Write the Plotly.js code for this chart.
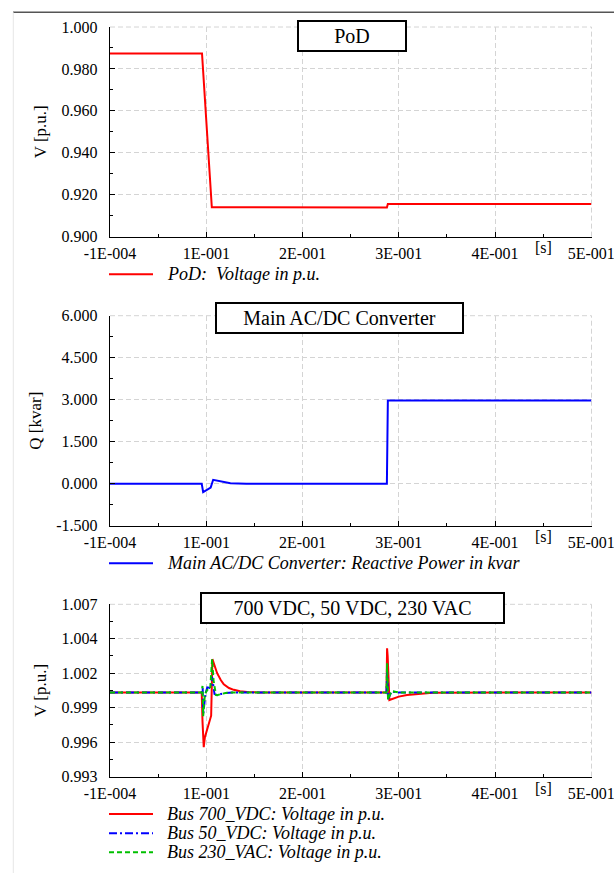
<!DOCTYPE html>
<html><head><meta charset="utf-8">
<script src="https://cdn.plot.ly/plotly-3.0.1.min.js"></script>
<style>html,body{margin:0;padding:0;background:#fff}</style>
</head><body><div id="chart" style="width:614px;height:873px"></div>
<script>
const FONT = '"Liberation Serif","Times New Roman",Times,serif';

// ---- shared time axis ----
const xTickVals = [-0.0001, 0.1, 0.2, 0.3, 0.4, 0.5];
const xTickText = ['-1E-004', '1E-001', '2E-001', '3E-001', '4E-001', '5E-001'];
const xMinorVals = [0.05, 0.15, 0.25, 0.35, 0.45];

// ---- panel 1: PoD voltage ----
const podT = [-0.0001, 0.0955, 0.1057, 0.1160, 0.1165, 0.2876, 0.2886, 0.5];
const podV = [0.9874, 0.9874, 0.9140, 0.9140, 0.9139, 0.9139, 0.9156, 0.9156];

// ---- panel 2: converter reactive power ----
const qT = [-0.0001, 0.0952, 0.0967, 0.1035, 0.1045, 0.1071, 0.1100, 0.1147, 0.1200, 0.1250, 0.1330, 0.1416, 0.2876, 0.2886, 0.5];
const qV = [0, 0, -0.30, -0.16, -0.14, 0.14, 0.12, 0.07, 0.04, 0.02, 0.01, 0, 0, 2.97, 2.97];

// ---- panel 3: bus voltages ----
const busT700 = [-0.0001, 0.0952, 0.0960, 0.0973, 0.0985, 0.1037, 0.1050, 0.1063, 0.1090, 0.1112, 0.1150, 0.1181, 0.1235, 0.1285, 0.1350, 0.1423, 0.1550, 0.2872, 0.2878, 0.2884, 0.2902, 0.2946, 0.3000, 0.3085, 0.3223, 0.3350, 0.5];
const busV700 = [0.99983, 0.99983, 0.99750, 0.99539, 0.99620, 0.99770, 0.99795, 1.00254, 1.00190, 1.00140, 1.00085, 1.00050, 1.00020, 1.00005, 0.99993, 0.99987, 0.99984, 0.99983, 1.00343, 1.00280, 0.99922, 0.99935, 0.99950, 0.99963, 0.99976, 0.99982, 0.99983];

const busT50 = [-0.0001, 0.0952, 0.0962, 0.0968, 0.0990, 0.1010, 0.1045, 0.1060, 0.1085, 0.1112, 0.1200, 0.1280, 0.2872, 0.2878, 0.2888, 0.2905, 0.2925, 0.2960, 0.3000, 0.5];
const busV50 = [0.99983, 0.99983, 1.00020, 0.99810, 0.99970, 1.00025, 1.00020, 1.00110, 0.99970, 0.99962, 0.99980, 0.99983, 0.99983, 1.00150, 0.99930, 0.99960, 0.99992, 0.99988, 0.99983, 0.99983];

const busT230 = [-0.0001, 0.0952, 0.0960, 0.0967, 0.0985, 0.1010, 0.1040, 0.1060, 0.1075, 0.1100, 0.1112, 0.1150, 0.1200, 0.1250, 0.2872, 0.2878, 0.2888, 0.2905, 0.2925, 0.2960, 0.3000, 0.5];
const busV230 = [0.99983, 0.99983, 1.00037, 0.99790, 0.99970, 1.00005, 1.00010, 1.00254, 1.00080, 0.99964, 0.99962, 0.99972, 0.99980, 0.99983, 0.99983, 1.00220, 0.99925, 0.99960, 0.99995, 0.99990, 0.99983, 0.99983];

// ---- y tick labels ----
const y1TickVals = [0.90, 0.92, 0.94, 0.96, 0.98, 1.00];
const y1TickText = ['0.900', '0.920', '0.940', '0.960', '0.980', '1.000'];
const y2TickVals = [-1.5, 0, 1.5, 3, 4.5, 6];
const y2TickText = ['-1.500', '0.000', '1.500', '3.000', '4.500', '6.000'];
const y3TickVals = [0.993, 0.9958, 0.9986, 1.0014, 1.0042, 1.007];
const y3TickText = ['0.993', '0.996', '0.999', '1.002', '1.004', '1.007'];

// ---- series names / panel titles ----
const panelTitles = ['PoD', 'Main AC/DC Converter', '700 VDC, 50 VDC, 230 VAC'];
const seriesNames = ['PoD:\u00a0 Voltage in p.u.', 'Main AC/DC Converter: Reactive Power in kvar',
                     'Bus 700_VDC: Voltage in p.u.', 'Bus 50_VDC: Voltage in p.u.', 'Bus 230_VAC: Voltage in p.u.'];

const W = 614, H = 873;
const px = v => v / W;
const py = v => 1 - v / H;

const XDOM = [px(110), px(591.5)];
const panels = [
  {top: 27, bottom: 236.6},
  {top: 315.7, bottom: 525.7},
  {top: 604.3, bottom: 776.6}
];

const GRID = '#d4d4d4';
function xCfg(anchor) {
  return {
    domain: XDOM, anchor: anchor, range: [-0.0001, 0.5002],
    tickmode: 'array', tickvals: xTickVals, ticktext: xTickText,
    ticks: 'inside', ticklen: 5, tickwidth: 1, tickcolor: '#000', ticklabelstandoff: 2,
    ticklabeloverflow: 'allow',
    showline: true, linecolor: '#000', linewidth: 1.2,
    showgrid: true, gridcolor: GRID, griddash: '5px,3px', gridwidth: 1,
    zeroline: false, tickfont: {family: FONT, size: 16, color: '#000'},
    minor: {tickvals: xMinorVals, ticks: 'inside', ticklen: 3, tickcolor: '#000', tickwidth: 1, showgrid: false},
    fixedrange: true
  };
}
function yCfg(anchor, p, range, tv, tt, minorVals, title) {
  return {
    domain: [py(p.bottom), py(p.top)], anchor: anchor, range: range,
    tickmode: 'array', tickvals: tv, ticktext: tt,
    ticks: 'inside', ticklen: 5, tickwidth: 1, tickcolor: '#000', ticklabelstandoff: 8,
    showline: true, linecolor: '#000', linewidth: 1.2,
    showgrid: true, gridcolor: GRID, griddash: '5px,3px', gridwidth: 1,
    zeroline: false, tickfont: {family: FONT, size: 16, color: '#000'},
    minor: {tickvals: minorVals, ticks: 'inside', ticklen: 3, tickcolor: '#000', tickwidth: 1, showgrid: false},
    title: {text: title, font: {family: FONT, size: 17, color: '#000'}, standoff: 10},
    fixedrange: true
  };
}

const styles = [
  {color: '#ff0000', width: 2},
  {color: '#0000ff', width: 2},
  {color: '#ff0000', width: 2},
  {color: '#0000ff', width: 2, dash: '8px,3px,2px,3px'},
  {color: '#00c000', width: 2, dash: '5px,3px'}
];

const traces = [
  {x: podT, y: podV, xaxis: 'x', yaxis: 'y', type: 'scatter', mode: 'lines', name: seriesNames[0], line: styles[0]},
  {x: qT, y: qV, xaxis: 'x2', yaxis: 'y2', type: 'scatter', mode: 'lines', name: seriesNames[1], line: styles[1]},
  {x: busT700, y: busV700, xaxis: 'x3', yaxis: 'y3', type: 'scatter', mode: 'lines', name: seriesNames[2], line: styles[2]},
  {x: busT50, y: busV50, xaxis: 'x3', yaxis: 'y3', type: 'scatter', mode: 'lines', name: seriesNames[3], line: styles[3]},
  {x: busT230, y: busV230, xaxis: 'x3', yaxis: 'y3', type: 'scatter', mode: 'lines', name: seriesNames[4], line: styles[4]}
];

function titleBox(text, cx, cy, w, h) {
  return {
    text: text, xref: 'paper', yref: 'paper', x: px(cx), y: py(cy),
    xanchor: 'center', yanchor: 'middle', showarrow: false,
    font: {family: FONT, size: 20, color: '#000'},
    bordercolor: '#000', borderwidth: 2, borderpad: 0, bgcolor: '#fff',
    width: w - 4, height: h - 4
  };
}
function secLabel(xa, yPx) {
  return {text: '[s]', xref: xa, yref: 'paper', x: 0.45, y: py(yPx), xanchor: 'center', yanchor: 'middle',
          showarrow: false, font: {family: FONT, size: 16, color: '#000'}};
}

const shapes = [
  {type: 'line', xref: 'paper', yref: 'paper', x0: px(13), x1: 1, y0: py(12.3), y1: py(12.3), line: {color: '#555', width: 1.5}},
  {type: 'line', xref: 'paper', yref: 'paper', x0: px(13.3), x1: px(13.3), y0: py(12.3), y1: 0, line: {color: '#e6e6e6', width: 1}}
];
// top and right dashed grid edges (Plotly clips grid lines at the range ends)
[['x', 'y'], ['x2', 'y2'], ['x3', 'y3']].forEach(([xa, ya]) => {
  shapes.push({type: 'line', xref: xa + ' domain', yref: ya + ' domain', x0: 0, x1: 1, y0: 1, y1: 1,
               line: {color: GRID, width: 1, dash: '5px,3px'}, layer: 'below'});
  shapes.push({type: 'line', xref: xa + ' domain', yref: ya + ' domain', x0: 1, x1: 1, y0: 0, y1: 1,
               line: {color: GRID, width: 1, dash: '5px,3px'}, layer: 'below'});
});

// legend rows (symbol line + italic label) under each panel
const legendRows = [274.3, 563.3, 814, 833.3, 852.3];
const annotations = [
  titleBox(panelTitles[0], 352, 36, 110, 32),
  titleBox(panelTitles[1], 339, 318, 249, 32),
  titleBox(panelTitles[2], 352, 607.5, 305, 32),
  secLabel('x', 247.5), secLabel('x2', 536.5), secLabel('x3', 788.5)
];
legendRows.forEach((row, i) => {
  const st = styles[i];
  shapes.push({type: 'line', xref: 'paper', yref: 'paper', x0: px(109), x1: px(153), y0: py(row), y1: py(row),
               line: {color: st.color, width: st.width, dash: st.dash || 'solid'}});
  annotations.push({text: seriesNames[i], xref: 'paper', yref: 'paper', x: px(165), y: py(row),
                    xanchor: 'left', yanchor: 'middle', showarrow: false,
                    font: {family: FONT, size: 18, color: '#000', style: 'italic'}});
});

const layout = {
  width: W, height: H, margin: {l: 0, r: 0, t: 0, b: 0},
  paper_bgcolor: '#fff', plot_bgcolor: '#fff', showlegend: false,
  font: {family: FONT, size: 16, color: '#000'},
  xaxis: xCfg('y'), xaxis2: xCfg('y2'), xaxis3: xCfg('y3'),
  yaxis: yCfg('x', panels[0], [0.9, 1.0], y1TickVals, y1TickText, [0.91, 0.93, 0.95, 0.97, 0.99], 'V [p.u.]'),
  yaxis2: yCfg('x2', panels[1], [-1.5, 6], y2TickVals, y2TickText, [-0.75, 0.75, 2.25, 3.75, 5.25], 'Q [kvar]'),
  yaxis3: yCfg('x3', panels[2], [0.993, 1.007], y3TickVals, y3TickText, [0.9944, 0.9972, 1.0, 1.0028, 1.0056], 'V [p.u.]'),
  shapes: shapes,
  annotations: annotations
};

Plotly.newPlot('chart', traces, layout, {staticPlot: true, displayModeBar: false});
</script></body></html>
